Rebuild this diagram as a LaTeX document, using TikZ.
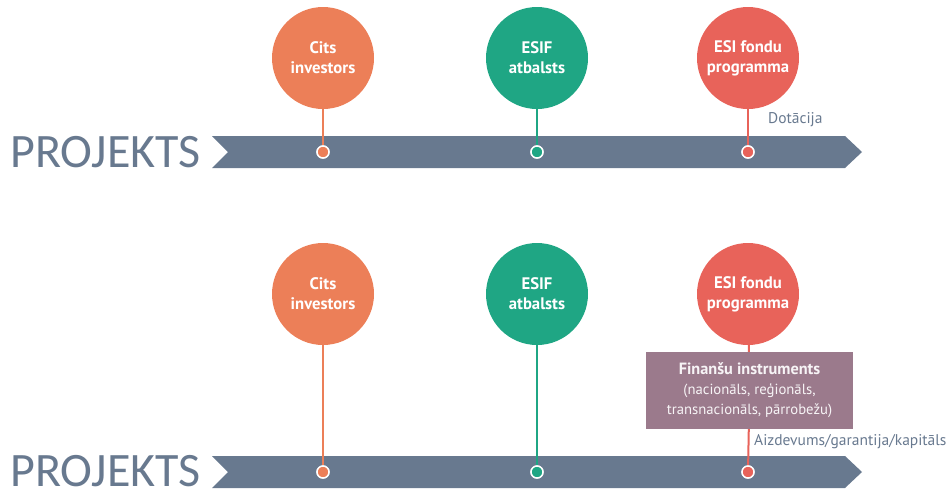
\documentclass[tikz,border=0pt]{standalone}
\usepackage{fontspec}
\setmainfont{PT Sans}
\newfontfamily\projfont{Carlito}
\usepackage{tikz}
\usetikzlibrary{positioning}
\definecolor{citsColor}{RGB}{236,127,88}
\definecolor{esifColor}{RGB}{31,166,132}
\definecolor{esiColor}{RGB}{232,99,90}
\definecolor{bandColor}{RGB}{104,121,143}
\definecolor{fiColor}{RGB}{155,122,140}
\tikzstyle{fund} = [circle, minimum size=102pt, inner sep=0pt, align=center, text=white, font=\fontsize{16.7}{20}\selectfont\bfseries]
\tikzstyle{dot} = [circle, minimum size=12pt, inner sep=0pt, draw=white, line width=1.4pt]
\tikzstyle{stem} = [line width=2pt]
\tikzstyle{band} = [fill=bandColor]
\tikzstyle{proj} = [anchor=base west, inner sep=0pt, text depth=0pt, text=bandColor, font=\projfont\fontsize{48}{48}\selectfont]
\tikzstyle{note} = [anchor=west, inner sep=0pt, text=bandColor, font=\fontsize{15.5}{17}\selectfont]
\tikzstyle{fibox} = [rectangle, fill=fiColor, minimum width=207pt, minimum height=77pt, inner sep=0pt, align=center, text=white!92!fiColor, font=\fontsize{14.7}{20}\selectfont]

\begin{document}
\begin{tikzpicture}[x=1pt, y=-1pt, node distance=94pt]
		\useasboundingbox (0,0) rectangle (950,491);
		% upper line
		\fill [band] (212,136) -- (845,136) -- (862,152) -- (845,168) -- (212,168) -- (228,152) -- cycle;
		\node (proj1) [proj] at (10,167) {PROJEKTS};
		\node (cits1) [fund, fill=citsColor] at (323,58) {Cits\\investors};
		\node (esif1) [fund, fill=esifColor] at (537,58) {ESIF\\atbalsts};
		\node (esi1) [fund, fill=esiColor] at (748,58) {ESI fondu\\programma};
		\node (citsdot1) [dot, fill=citsColor, below of=cits1] {};
		\node (esifdot1) [dot, fill=esifColor, below of=esif1] {};
		\node (esidot1) [dot, fill=esiColor, below of=esi1] {};
		\draw [stem, citsColor] (cits1) -- (citsdot1);
		\draw [stem, esifColor] (esif1) -- (esifdot1);
		\draw [stem, esiColor] (esi1) -- (esidot1);
		\node (dot) [note] at (768,120) {Dotācija};
		% lower line
		\fill [band] (212,456) -- (845,456) -- (862,472) -- (845,488) -- (212,488) -- (228,472) -- cycle;
		\node (proj2) [proj] at (10,486.5) {PROJEKTS};
		\node (cits2) [fund, fill=citsColor] at (323,294) {Cits\\investors};
		\node (esif2) [fund, fill=esifColor] at (537,294) {ESIF\\atbalsts};
		\node (esi2) [fund, fill=esiColor] at (748,294) {ESI fondu\\programma};
		\node (fi) [fibox] at (749.5,390.5) {{\fontsize{16.3}{20}\selectfont\bfseries Finanšu instruments}\\(nacionāls, reģionāls,\\transnacionāls, pārrobežu)};
		\node (citsdot2) [dot, fill=citsColor, below of=cits2, node distance=178pt] {};
		\node (esifdot2) [dot, fill=esifColor, below of=esif2, node distance=178pt] {};
		\node (esidot2) [dot, fill=esiColor, below of=esi2, node distance=178pt] {};
		\draw [stem, citsColor] (cits2) -- (citsdot2);
		\draw [stem, esifColor] (esif2) -- (esifdot2);
		\draw [stem, esiColor] (esi2) -- (fi);
		\draw [stem, esiColor] (fi) -- (esidot2);
		\node (loan) [note] at (754,442) {Aizdevums/garantija/kapitāls};
		% dots on top of stems
		\foreach \d/\c in {citsdot1/citsColor, esifdot1/esifColor, esidot1/esiColor, citsdot2/citsColor, esifdot2/esifColor, esidot2/esiColor}
			\node [dot, fill=\c] at (\d) {};
	\end{tikzpicture}
\end{document}
